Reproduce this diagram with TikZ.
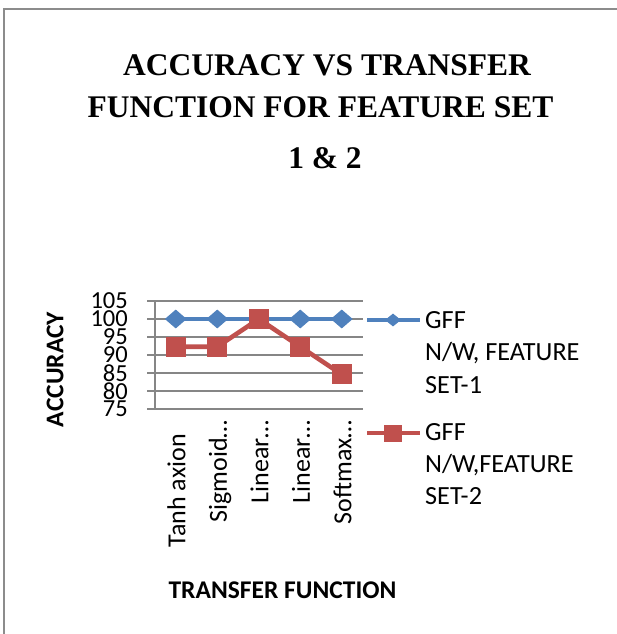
\documentclass[tikz,border=0pt]{standalone}
\usepackage{fontspec}
\setmainfont{Liberation Serif}
\newfontfamily\calfont{Carlito}
\usetikzlibrary{shapes.geometric}
\definecolor{serblue}{HTML}{4F81BD}
\definecolor{serred}{HTML}{C0504D}
\definecolor{gridgray}{HTML}{868686}
\definecolor{framegray}{HTML}{8C8C8C}
\begin{document}
\begin{tikzpicture}[x=1pt,y=-1pt,
  grid/.style={draw=gridgray,line width=1.6pt},
  frameline/.style={draw=framegray,line width=2.5pt},
  bline/.style={draw=serblue,line width=4pt},
  rline/.style={draw=serred,line width=4.6pt,line join=round},
  bdia/.style={diamond,fill=serblue,inner sep=0pt,minimum width=22pt,minimum height=19pt},
  rsq/.style={rectangle,fill=serred,inner sep=0pt,minimum size=20pt},
  bdialeg/.style={diamond,fill=serblue,inner sep=0pt,minimum width=16pt,minimum height=13pt},
  rsqleg/.style={rectangle,fill=serred,inner sep=0pt,minimum width=18pt,minimum height=17pt},
  ticklab/.style={font=\calfont\fontsize{24.5}{28}\selectfont,anchor=east,inner sep=0pt},
  catlab/.style={font=\calfont\fontsize{26}{30}\selectfont,rotate=90,anchor=base east,inner sep=0pt},
  legtext/.style={font=\calfont\fontsize{26.2}{32.5}\selectfont,anchor=base west,inner sep=0pt},
  axtitle/.style={font=\calfont\bfseries\fontsize{25.5}{30}\selectfont,inner sep=0pt},
  titletext/.style={font=\bfseries\fontsize{31.5}{38}\selectfont,anchor=base,inner sep=0pt}
]
\useasboundingbox (0,0) rectangle (617,634);
\fill[white] (0,0) rectangle (617,634);

% chart frame (left and top edges)
\begin{scope}
\clip (0,0) rectangle (617,634);
\draw[frameline] (4,640) -- (4,9) -- (625,9);
\end{scope}

% title
\node[titletext] (t1) at (327,75) {ACCURACY VS TRANSFER};
\node[titletext] (t2) at (320.5,117) {FUNCTION FOR FEATURE SET};
\node[titletext] (t3) at (325,168) {1 \& 2};

% horizontal gridlines with tick stubs, value labels
\foreach \v/\yy in {105/301,100/319,95/337,90/355,85/373,80/391} {
  \draw[grid] (147,\yy) -- (362.5,\yy);
  \node[ticklab] (tk\v) at (128,\yy) {\v};
}
\node[ticklab] (tk75) at (128,409) {75};
% axes
\draw[grid] (147,409) -- (362.5,409);
\draw[grid] (155,301) -- (155,409);

% data points: x centres 175.75 + 41.5 i ; y = 409 - 3.6 (v - 75)
\coordinate (b1) at (175.75,319);
\coordinate (b2) at (217.25,319);
\coordinate (b3) at (258.75,319);
\coordinate (b4) at (300.25,319);
\coordinate (b5) at (341.75,319);
\coordinate (r1) at (175.75,346.7);
\coordinate (r2) at (217.25,346.7);
\coordinate (r3) at (258.75,319);
\coordinate (r4) at (300.25,346.7);
\coordinate (r5) at (341.75,374.4);

% series 1
\draw[bline] (b1) -- (b2) -- (b3) -- (b4) -- (b5);
\foreach \i in {1,...,5} \node[bdia] (bm\i) at (b\i) {};
% series 2
\draw[rline] (r1) -- (r2) -- (r3) -- (r4) -- (r5);
\foreach \i in {1,...,5} \node[rsq] (rm\i) at (r\i) {};

% category labels
\node[catlab] (c1) at (185.25,434) {Tanh axion};
\node[catlab] (c2) at (226.75,420) {Sigmoid…};
\node[catlab] (c3) at (268.25,420) {Linear…};
\node[catlab] (c4) at (309.75,420) {Linear…};
\node[catlab] (c5) at (351.25,420) {Softmax…};

% axis titles
\node[axtitle,rotate=90] (ytitle) at (55,369.5) {ACCURACY};
\node[axtitle] (xtitle) at (282.5,590) {TRANSFER FUNCTION};

% legend
\coordinate (l1a) at (367,320);
\coordinate (l1b) at (420,320);
\coordinate (l2a) at (367,433);
\coordinate (l2b) at (420,433);
\draw[bline] (l1a) -- (l1b);
\node[bdialeg] (lm1) at (393,320) {};
\draw[rline,line width=4pt] (l2a) -- (l2b);
\node[rsqleg] (lm2) at (393,433) {};
\node[legtext] (lt1a) at (425,328) {GFF};
\node[legtext] (lt1b) at (425,360.5) {N/W, FEATURE};
\node[legtext] (lt1c) at (425,393) {SET-1};
\node[legtext] (lt2a) at (425,440) {GFF};
\node[legtext] (lt2b) at (425,472) {N/W,FEATURE};
\node[legtext] (lt2c) at (425,504) {SET-2};
\end{tikzpicture}
\end{document}
